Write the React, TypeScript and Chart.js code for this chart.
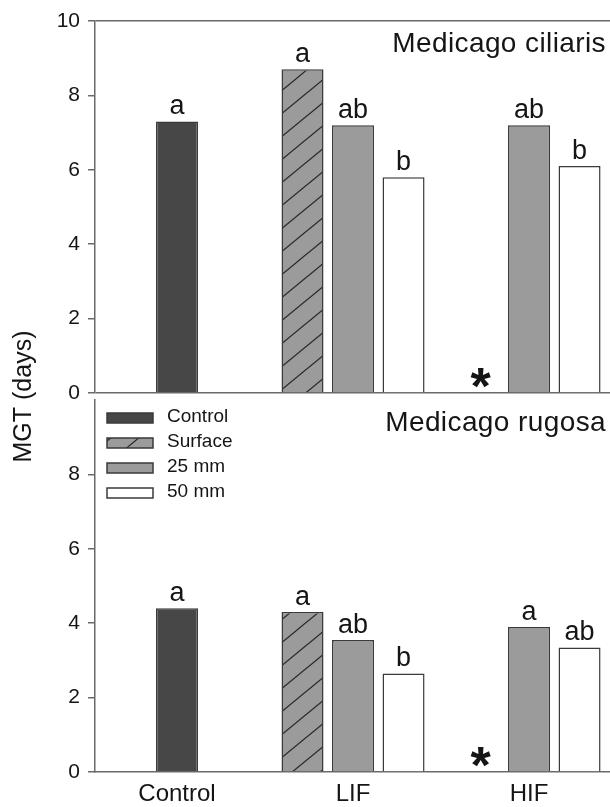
import React, { useEffect, useRef } from "react";
import { Chart, registerables } from "chart.js";

Chart.register(...registerables);

const FONT = "'Liberation Sans', Arial, Helvetica, sans-serif";

// ---- categories / labels ----
const groups = ["Control", "LIF", "HIF"];
const groupPositions = [1, 2, 3];
const legendLabels = ["Control", "Surface", "25 mm", "50 mm"];
const ciliarisTitle = "Medicago ciliaris";
const rugosaTitle = "Medicago rugosa";
const yTitle = "MGT (days)";
const yTickValues = [0, 2, 4, 6, 8, 10];

// ---- Medicago ciliaris (top panel) ----
const ciliarisControl = [7.3, null, null];
const ciliarisSurface = [null, 8.7, null];
const ciliaris25mm = [null, 7.2, 7.2];
const ciliaris50mm = [null, 5.8, 6.1];
const ciliarisControlLetters = ["a", "", ""];
const ciliarisSurfaceLetters = ["", "a", ""];
const ciliaris25mmLetters = ["", "ab", "ab"];
const ciliaris50mmLetters = ["", "b", "b"];

// ---- Medicago rugosa (bottom panel) ----
const rugosaControl = [4.4, null, null];
const rugosaSurface = [null, 4.3, null];
const rugosa25mm = [null, 3.55, 3.9];
const rugosa50mm = [null, 2.65, 3.35];
const rugosaControlLetters = ["a", "", ""];
const rugosaSurfaceLetters = ["", "a", ""];
const rugosa25mmLetters = ["", "ab", "a"];
const rugosa50mmLetters = ["", "b", "ab"];

// surface-sown seeds missing at HIF (marked with *)
const surfaceMissing = [false, false, true];

// ---- styles ----
const CONTROL_COLOR = "#474747";
const GRAY = "#9b9b9b";
const WHITE = "#ffffff";
const EDGE = "#3a3a3a";
const AXIS = "#6a6a6a";
const TEXT = "#151515";
const CLEAR = "rgba(0,0,0,0)";

function makeHatch(): CanvasPattern | string {
  const W = 28;
  const H = 23;
  const c = document.createElement("canvas");
  c.width = W;
  c.height = H;
  const g = c.getContext("2d");
  if (!g) return GRAY;
  g.fillStyle = GRAY;
  g.fillRect(0, 0, W, H);
  g.strokeStyle = "#2a2a2a";
  g.lineWidth = 1.3;
  for (const dx of [-W, 0, W]) {
    g.beginPath();
    g.moveTo(dx - 2, H + 2 * (H / W));
    g.lineTo(dx + W + 2, -2 * (H / W));
    g.stroke();
  }
  const p = g.createPattern(c, "repeat");
  return p || GRAY;
}

const pts = (arr: (number | null)[]) =>
  groupPositions.map((x, i) => ({ x, y: arr[i] }));

export default function App() {
  const ref = useRef<HTMLCanvasElement | null>(null);

  useEffect(() => {
    if (!ref.current) return;
    const hatch = makeHatch();

    const panels = [
      {
        axis: "yTop",
        title: ciliarisTitle,
        control: ciliarisControl,
        surface: ciliarisSurface,
        mm25: ciliaris25mm,
        mm50: ciliaris50mm,
        lettersS: ciliarisSurfaceLetters,
        lettersM: ciliarisControlLetters.map((l, i) => l || ciliaris25mmLetters[i]),
        lettersF: ciliaris50mmLetters,
      },
      {
        axis: "yBot",
        title: rugosaTitle,
        control: rugosaControl,
        surface: rugosaSurface,
        mm25: rugosa25mm,
        mm50: rugosa50mm,
        lettersS: rugosaSurfaceLetters,
        lettersM: rugosaControlLetters.map((l, i) => l || rugosa25mmLetters[i]),
        lettersF: rugosa50mmLetters,
      },
    ];

    const datasets: any[] = [];
    panels.forEach((p) => {
      datasets.push({
        label: "Surface",
        data: pts(p.surface),
        stack: "S",
        yAxisID: p.axis,
        backgroundColor: hatch,
        borderColor: EDGE,
        borderWidth: 1.5,
      });
      datasets.push({
        label: "Control / 25 mm",
        data: pts(p.control.map((c, i) => (c != null ? c : p.mm25[i]))),
        stack: "M",
        yAxisID: p.axis,
        backgroundColor: p.control.map((c) => (c != null ? CONTROL_COLOR : GRAY)),
        borderColor: EDGE,
        borderWidth: 1.5,
      });
      datasets.push({
        label: "50 mm",
        data: pts(p.mm50),
        stack: "F",
        yAxisID: p.axis,
        backgroundColor: WHITE,
        borderColor: EDGE,
        borderWidth: 1.5,
      });
    });

    const fitWidth = (s: any) => {
      s.width = 95;
    };

    const yCommon = (hideTop: boolean) => ({
      type: "linear",
      position: "left",
      stack: "panels",
      stackWeight: 372,
      min: 0,
      max: 10,
      stacked: false,
      afterBuildTicks: (s: any) => {
        s.ticks = yTickValues.map((v) => ({ value: v }));
      },
      afterFit: fitWidth,
      ticks: {
        color: TEXT,
        font: { family: FONT, size: 21 },
        padding: 8,
        callback: (v: any) => (hideTop && v === 10 ? "" : String(v)),
      },
      border: { display: true, color: AXIS, width: 1.5 },
    });

    const annotate = {
      id: "annotate",
      afterDatasetsDraw(chart: any) {
        const ctx = chart.ctx as CanvasRenderingContext2D;
        const area = chart.chartArea;
        ctx.save();
        ctx.fillStyle = TEXT;
        panels.forEach((p, pi) => {
          const ys = chart.scales[p.axis];
          const letterSets = [p.lettersS, p.lettersM, p.lettersF];
          letterSets.forEach((letters, k) => {
            const meta = chart.getDatasetMeta(pi * 3 + k);
            meta.data.forEach((el: any, i: number) => {
              const txt = letters[i];
              if (!txt) return;
              ctx.font = `27px ${FONT}`;
              ctx.textAlign = "center";
              ctx.textBaseline = "alphabetic";
              ctx.fillText(txt, el.x, el.y - 7);
            });
          });
          // asterisk where surface treatment has no value
          const sMeta = chart.getDatasetMeta(pi * 3);
          surfaceMissing.forEach((m, i) => {
            if (!m) return;
            const el = sMeta.data[i];
            ctx.font = `bold 52px ${FONT}`;
            ctx.textAlign = "center";
            ctx.textBaseline = "alphabetic";
            const mt = ctx.measureText("*");
            const cy = ys.getPixelForValue(0) - 15;
            const base = cy + (mt.actualBoundingBoxAscent - mt.actualBoundingBoxDescent) / 2;
            ctx.fillText("*", el.x + 2, base);
          });
          // panel title
          ctx.font = `28px ${FONT}`;
          (ctx as any).letterSpacing = "0.4px";
          ctx.textAlign = "right";
          ctx.textBaseline = "alphabetic";
          ctx.fillText(p.title, area.right - 4, ys.top + 31);
          (ctx as any).letterSpacing = "0px";
        });

        // legend inside bottom panel
        const yb = chart.scales.yBot;
        const fills: any[] = [CONTROL_COLOR, hatch, GRAY, WHITE];
        legendLabels.forEach((lab, i) => {
          const cy = yb.top + 18 + i * 25;
          const bx = area.left + 12;
          ctx.fillStyle = fills[i];
          ctx.fillRect(bx, cy - 5, 46, 10);
          ctx.strokeStyle = EDGE;
          ctx.lineWidth = 1.5;
          ctx.strokeRect(bx, cy - 5, 46, 10);
          ctx.fillStyle = TEXT;
          ctx.font = `19px ${FONT}`;
          ctx.textAlign = "left";
          ctx.textBaseline = "middle";
          ctx.fillText(lab, bx + 60, cy - 1);
        });
        ctx.restore();
      },
    };

    const chart = new Chart(ref.current, {
      type: "bar",
      data: { datasets },
      plugins: [annotate],
      options: {
        animation: false,
        responsive: false,
        devicePixelRatio: 1,
        events: [],
        layout: { padding: { top: 21, right: 0, bottom: 0, left: 0 } },
        datasets: {
          bar: { categoryPercentage: 0.861, barPercentage: 0.832 },
        },
        plugins: { legend: { display: false }, tooltip: { enabled: false } },
        scales: {
          x: {
            type: "linear",
            min: 0.534,
            max: 3.46,
            offset: false,
            afterBuildTicks: (s: any) => {
              s.ticks = groupPositions.map((v) => ({ value: v }));
            },
            afterFit: (s: any) => {
              s.height = 35;
            },
            ticks: {
              autoSkip: false,
              maxRotation: 0,
              color: TEXT,
              padding: 8,
              font: { family: FONT, size: 24 },
              callback: (v: any) => {
                const i = groupPositions.indexOf(v);
                return i >= 0 ? groups[i] : "";
              },
            },
            grid: { display: false, drawTicks: false },
            border: { display: true, color: AXIS, width: 1.5 },
          },
          yBot: {
            ...yCommon(true),
            grid: {
              color: CLEAR,
              tickLength: 7,
              lineWidth: 1.5,
              tickColor: (c: any) => (c.tick && c.tick.value === 10 ? CLEAR : AXIS),
            },
          },
          yGap: {
            type: "linear",
            position: "left",
            stack: "panels",
            stackWeight: 7,
            min: 0,
            max: 1,
            afterFit: fitWidth,
            ticks: { display: false },
            grid: { display: false, drawTicks: false },
            border: { display: false },
            title: {
              display: true,
              text: yTitle,
              color: TEXT,
              font: { family: FONT, size: 25 },
              padding: { top: 9, bottom: 0 },
            },
          },
          yTop: {
            ...yCommon(false),
            grid: {
              color: (c: any) =>
                c.tick && (c.tick.value === 0 || c.tick.value === 10) ? AXIS : CLEAR,
              tickLength: 7,
              lineWidth: 1.5,
              tickColor: AXIS,
            },
          },
        } as any,
      } as any,
    });

    return () => chart.destroy();
  }, []);

  return (
    <div style={{ position: "absolute", left: 0, top: 0, width: 610, height: 807, background: "#fff" }}>
      <canvas ref={ref} width={610} height={807} style={{ display: "block" }} />
    </div>
  );
}
